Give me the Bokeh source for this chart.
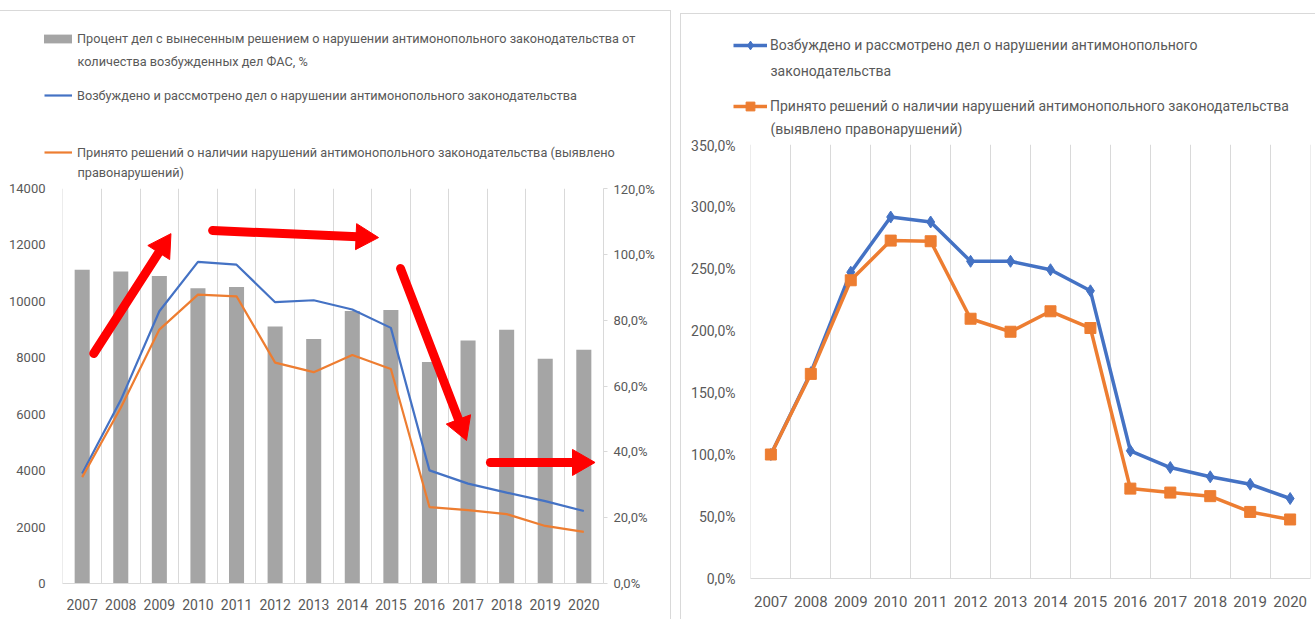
import math
from bokeh.plotting import figure
from bokeh.models import (Range1d, LinearAxis, FixedTicker, Grid, Legend, LegendItem,
                          Label, ColumnDataSource, Plot)
from bokeh.layouts import row, column
from bokeh.embed import file_html
from bokeh.resources import INLINE

# ---------------- data ----------------
years = list(range(2007, 2021))
share_pct = [95.3, 94.8, 93.4, 89.7, 90.1, 78.1, 74.3, 82.8, 83.1, 67.3, 73.8, 77.1, 68.3, 71.0]
cases = [3900, 6500, 9650, 11400, 11300, 9970, 10040, 9710, 9060, 4010, 3540, 3220, 2920, 2570]
violations = [3770, 6230, 9000, 10240, 10180, 7830, 7490, 8100, 7600, 2710, 2600, 2460, 2040, 1830]
cases_idx = [100.0, 166.0, 247.0, 291.5, 287.5, 255.8, 255.8, 249.0, 232.0, 103.0, 89.5, 82.0, 76.0, 64.5]
violations_idx = [100.0, 165.0, 240.5, 272.5, 272.0, 209.5, 199.0, 215.5, 202.0, 72.5, 69.3, 66.4, 53.7, 47.6]

count_ticks = [0, 2000, 4000, 6000, 8000, 10000, 12000, 14000]
count_tick_labels = ["0", "2000", "4000", "6000", "8000", "10000", "12000", "14000"]
pct_ticks = [0, 20, 40, 60, 80, 100, 120]
pct_tick_labels = ["0,0%", "20,0%", "40,0%", "60,0%", "80,0%", "100,0%", "120,0%"]
idx_ticks = [0, 50, 100, 150, 200, 250, 300, 350]
idx_tick_labels = ["0,0%", "50,0%", "100,0%", "150,0%", "200,0%", "250,0%", "300,0%", "350,0%"]

# trend arrows drawn over the left chart (data units: year, count)
arrow_x0 = [2007.30, 2010.38, 2015.25, 2017.58]
arrow_y0 = [8150, 12510, 11165, 4290]
arrow_x1 = [2009.30, 2014.68, 2016.96, 2020.29]
arrow_y1 = [12400, 12260, 5070, 4290]

lg_share_1 = "Процент дел с вынесенным решением о нарушении антимонопольного законодательства от"
lg_share_2 = "количества возбужденных дел ФАС, %"
lg_cases = "Возбуждено и рассмотрено дел о нарушении антимонопольного законодательства"
lg_viol_1 = "Принято решений о наличии нарушений антимонопольного законодательства (выявлено"
lg_viol_2 = "правонарушений)"
rlg_cases_1 = "Возбуждено и рассмотрено дел о нарушении антимонопольного"
rlg_cases_2 = "законодательства"
rlg_viol_1 = "Принято решений о наличии нарушений антимонопольного законодательства"
rlg_viol_2 = "(выявлено правонарушений)"

# ---------------- styles ----------------
FONT = "Roboto"
TXT = "#595959"
GRID = "#d9d9d9"
BLUE = "#4472c4"
ORANGE = "#ed7d31"
BAR = "#a5a5a5"
RED = "#ff0000"

EPS = 0.01
bounds = [y - 0.5 for y in years] + [years[-1] + 0.5]

L_W, R_W = 676, 639
L_LEG_H, R_LEG_H = 181, 137
L_CH_H, R_CH_H = 619 - L_LEG_H, 619 - R_LEG_H
L_FRAME = dict(left=62, right=73, top=7, bottom=36)
R_FRAME = dict(left=74, right=5, top=7, bottom=41)
HAS_FRAME_ALIGN = "frame_align" in Plot.properties()

# thin light frames of the two pasted pictures (page decoration)
PAGE_BG = ("linear-gradient(#d9d9d9,#d9d9d9) 670px 10px / 1px 609px no-repeat, "
           "linear-gradient(#d9d9d9,#d9d9d9) 680px 13px / 1px 606px no-repeat, "
           "linear-gradient(#d9d9d9,#d9d9d9) 0px 10px / 671px 1px no-repeat, "
           "linear-gradient(#d9d9d9,#d9d9d9) 680px 13px / 635px 1px no-repeat, "
           "#ffffff")


def no_align(p):
    if HAS_FRAME_ALIGN:
        p.frame_align = False
    p.border_fill_alpha = 0


def style_x(p, size, standoff):
    p.xaxis.ticker = FixedTicker(ticks=years)
    p.xaxis.major_label_overrides = {y: str(y) for y in years}
    p.xaxis.axis_line_color = GRID
    p.xaxis.major_tick_line_color = None
    p.xaxis.minor_tick_line_color = None
    p.xaxis.major_label_text_font = FONT
    p.xaxis.major_label_text_font_size = size
    p.xaxis.major_label_text_color = TXT
    p.xaxis.major_label_standoff = standoff


def style_y(ax, ticks, labels, size, standoff):
    ax.ticker = FixedTicker(ticks=ticks)
    ax.major_label_overrides = dict(zip(ticks, labels))
    ax.axis_line_color = None
    ax.major_tick_line_color = None
    ax.minor_tick_line_color = None
    ax.major_label_text_font = FONT
    ax.major_label_text_font_size = size
    ax.major_label_text_color = TXT
    ax.major_label_standoff = standoff


def legend_fig(w, h):
    p = figure(width=w, height=h, x_range=Range1d(0, w), y_range=Range1d(h, 0),
               x_axis_location=None, y_axis_location=None, output_backend="svg",
               toolbar_location=None, min_border=0)
    p.outline_line_color = None
    p.grid.visible = False
    p.background_fill_alpha = 0
    no_align(p)
    return p


def add_legend(p, label, renderers, vx, vy, gw, gh, lh, standoff, size):
    lg = Legend(items=[LegendItem(label=label, renderers=renderers)], location=(vx, vy),
                orientation="vertical", padding=0, margin=0, spacing=0,
                border_line_color=None, background_fill_alpha=0,
                glyph_width=gw, glyph_height=gh, label_height=lh, label_standoff=standoff,
                label_text_font=FONT, label_text_font_size=size, label_text_color=TXT)
    p.add_layout(lg, "center")


def add_text(p, x, y, text, size):
    p.add_layout(Label(x=x, y=y, text=text, text_baseline="middle", text_align="left",
                       text_font=FONT, text_font_size=size, text_color=TXT))


src = ColumnDataSource(dict(year=years, share=share_pct, cases=cases, viol=violations,
                            cases_idx=cases_idx, viol_idx=violations_idx))
OFF = dict(x=[-1000], y=[-1000])  # off-canvas point so that legend swatches get drawn

# ---------------- left chart ----------------
p1 = figure(width=L_W, height=L_CH_H, x_range=Range1d(2006.5 - EPS, 2020.5 + EPS),
            y_range=Range1d(0, 14000), output_backend="svg", toolbar_location=None,
            min_border_left=L_FRAME["left"], min_border_right=L_FRAME["right"],
            min_border_top=L_FRAME["top"], min_border_bottom=L_FRAME["bottom"])
p1.outline_line_color = None
p1.grid.visible = False
no_align(p1)
p1.extra_y_ranges = {"pct": Range1d(0, 120)}
p1.add_layout(Grid(dimension=0, ticker=FixedTicker(ticks=bounds), grid_line_color=GRID))

style_x(p1, "14px", 9)
style_y(p1.yaxis[0], count_ticks, count_tick_labels, "13px", 11)

ax_r = LinearAxis(y_range_name="pct")
style_y(ax_r, pct_ticks, pct_tick_labels, "13px", 6)
ax_r.axis_line_color = GRID
ax_r.major_tick_line_color = GRID
ax_r.major_tick_in = 0
ax_r.major_tick_out = 4
p1.add_layout(ax_r, "right")

p1.vbar(x="year", top="share", width=0.39, source=src, y_range_name="pct",
        fill_color=BAR, line_color=None)
p1.line("year", "cases", source=src, line_color=BLUE, line_width=2.2)
p1.line("year", "viol", source=src, line_color=ORANGE, line_width=2.2)

# arrows: shaft (segment) + triangular head, oriented in screen space
frame_w = L_W - L_FRAME["left"] - L_FRAME["right"]
frame_h = L_CH_H - L_FRAME["top"] - L_FRAME["bottom"]
kx = frame_w / 14.0
ky = frame_h / 14000.0
HEAD = 26
tip_off = HEAD * math.sqrt(3) / 2 * 2 / 3
hx, hy, ha = [], [], []
for x0, y0, x1, y1 in zip(arrow_x0, arrow_y0, arrow_x1, arrow_y1):
    phi = math.atan2((y1 - y0) * ky, (x1 - x0) * kx)
    hx.append(x1 - tip_off * math.cos(phi) / kx)
    hy.append(y1 - tip_off * math.sin(phi) / ky)
    ha.append(phi - math.pi / 2)
p1.segment(x0=arrow_x0, y0=arrow_y0, x1=hx, y1=hy, line_color=RED, line_width=9, line_cap="round")
p1.scatter(x=hx, y=hy, angle=ha, marker="triangle", size=HEAD, fill_color=RED, line_color=RED)

# left legend panel
LS = "12.7px"
lg1 = legend_fig(L_W, L_LEG_H)
d_bar = lg1.vbar(x=OFF["x"], top=OFF["y"], width=1, fill_color=BAR, line_color=None)
d_cases = lg1.line(x=OFF["x"], y=OFF["y"], line_color=BLUE, line_width=2.2)
d_viol = lg1.line(x=OFF["x"], y=OFF["y"], line_color=ORANGE, line_width=2.2)
add_legend(lg1, lg_share_1, [d_bar], 40, L_LEG_H - 15 - 31, 35, 11, 11, 2, LS)
add_legend(lg1, lg_cases, [d_cases], 44, L_LEG_H - 16 - 87, 28, 16, 16, 5, LS)
add_legend(lg1, lg_viol_1, [d_viol], 44, L_LEG_H - 16 - 144, 28, 16, 16, 5, LS)
add_text(lg1, 77, 61, lg_share_2, LS)
add_text(lg1, 77, 172, lg_viol_2, LS)

# ---------------- right chart ----------------
p2 = figure(width=R_W, height=R_CH_H, x_range=Range1d(2006.5 - EPS, 2020.5 + EPS),
            y_range=Range1d(0, 350), output_backend="svg", toolbar_location=None,
            min_border_left=R_FRAME["left"], min_border_right=R_FRAME["right"],
            min_border_top=R_FRAME["top"], min_border_bottom=R_FRAME["bottom"])
p2.outline_line_color = None
p2.grid.visible = False
no_align(p2)
p2.add_layout(Grid(dimension=0, ticker=FixedTicker(ticks=bounds), grid_line_color=GRID))

style_x(p2, "15px", 11)
style_y(p2.yaxis[0], idx_ticks, idx_tick_labels, "14px", 9)

p2.line("year", "cases_idx", source=src, line_color=BLUE, line_width=3.5)
p2.scatter("year", "cases_idx", source=src, marker="diamond", size=12,
           fill_color=BLUE, line_color=BLUE)
p2.line("year", "viol_idx", source=src, line_color=ORANGE, line_width=3.5)
p2.scatter("year", "viol_idx", source=src, marker="square", size=11,
           fill_color=ORANGE, line_color=ORANGE)

# right legend panel
lg2 = legend_fig(R_W, R_LEG_H)
d_rc_l = lg2.line(x=OFF["x"], y=OFF["y"], line_color=BLUE, line_width=3.5)
d_rc_m = lg2.scatter(x=OFF["x"], y=OFF["y"], marker="diamond", fill_color=BLUE, line_color=BLUE)
d_rv_l = lg2.line(x=OFF["x"], y=OFF["y"], line_color=ORANGE, line_width=3.5)
d_rv_m = lg2.scatter(x=OFF["x"], y=OFF["y"], marker="square", fill_color=ORANGE, line_color=ORANGE)
add_legend(lg2, rlg_cases_1, [d_rc_l, d_rc_m], 57, R_LEG_H - 22 - 34, 34, 22, 22, 3, "14px")
add_legend(lg2, rlg_viol_1, [d_rv_l, d_rv_m], 57, R_LEG_H - 22 - 95, 34, 22, 22, 3, "14px")
add_text(lg2, 94, 70, rlg_cases_2, "14px")
add_text(lg2, 94, 128, rlg_viol_2, "14px")

layout = row(column(lg1, p1), column(lg2, p2), styles={"background": PAGE_BG})
open("out.html", "w").write(file_html(layout, INLINE))
